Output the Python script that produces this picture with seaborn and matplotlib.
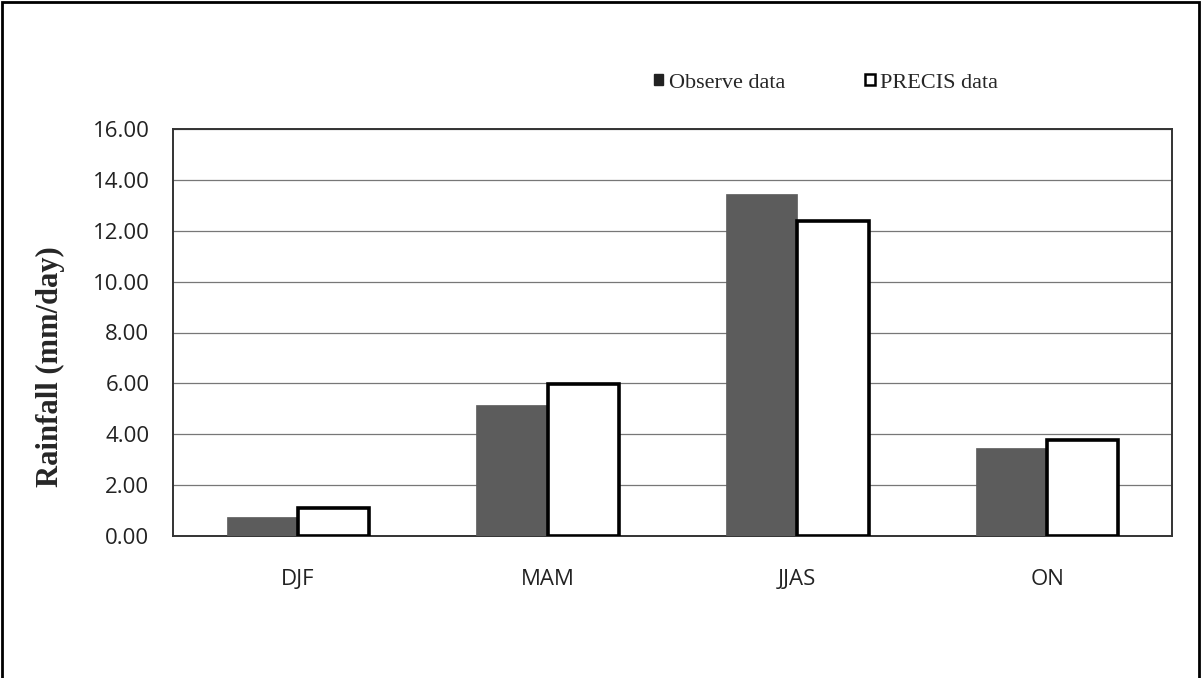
import matplotlib
matplotlib.use("Agg")
import matplotlib.pyplot as plt
import seaborn as sns
import pandas as pd
from matplotlib.patches import Rectangle, Patch

seasons = ["DJF", "MAM", "JJAS", "ON"]
observed = [0.76, 5.15, 13.43, 3.45]
precis = [1.11, 5.97, 12.39, 3.77]
series_names = ["Observe data", "PRECIS data"]
y_ticks = [0, 2, 4, 6, 8, 10, 12, 14, 16]

df = pd.DataFrame({
    "season": seasons * 2,
    "rainfall": observed + precis,
    "series": [series_names[0]] * 4 + [series_names[1]] * 4,
})

sns.set_theme(style="white")
fig = plt.figure(figsize=(12.01, 6.78), dpi=100)
ax = fig.add_axes([173 / 1201, 1 - 536 / 678, 999 / 1201, 407 / 678])

sns.barplot(data=df, x="season", y="rainfall", hue="series",
            palette=["#5c5c5c", "white"], width=0.57, gap=0,
            saturation=1, legend=False, ax=ax)

# outline style for each series
for i, bar in enumerate(ax.patches[:8]):
    if i < 4:
        bar.set_edgecolor("#5c5c5c")
        bar.set_linewidth(0.5)
    else:
        bar.set_edgecolor("black")
        bar.set_linewidth(2.6)
    bar.set_zorder(3)

ax.set_ylim(0, 16)
ax.set_xlim(-0.5, 3.5)
ax.set_yticks(y_ticks)
ax.set_yticklabels([f"{v:.2f}" for v in y_ticks], fontsize=16,
                   family="Open Sans", color="#222222")
ax.set_xticklabels(seasons, fontsize=16, family="Open Sans", color="#222222")
ax.tick_params(axis="y", length=0, pad=17)
ax.tick_params(axis="x", length=0, pad=24)
ax.yaxis.grid(True, color="#777777", linewidth=0.9, zorder=0)
ax.set_axisbelow(True)
for s in ax.spines.values():
    s.set_visible(True)
    s.set_color("#333333")
    s.set_linewidth(1.4)

ax.set_xlabel("")
ax.set_ylabel("")
fig.text(50 / 1201, 1 - 367 / 678, "Rainfall (mm/day)", rotation=90,
         ha="center", va="center", fontsize=22, fontweight="bold",
         family="Liberation Serif")

# series key above the plot
handles = [Patch(facecolor="#222222", edgecolor="#222222", linewidth=1),
           Patch(facecolor="white", edgecolor="black", linewidth=1.8)]
fig.legend(handles, series_names, loc="center", bbox_to_anchor=(826 / 1201, 1 - 83 / 678),
           ncol=2, frameon=False, handlelength=0.42, handleheight=0.42,
           handletextpad=0.25, columnspacing=3.6,
           prop={"family": "Liberation Serif", "size": 16})

# outer frame
fig.patches.append(Rectangle((2 / 1201, -0.05), 1197 / 1201, 1.05 - 2 / 678,
                             transform=fig.transFigure, fill=False,
                             edgecolor="black", linewidth=2))

fig.savefig("out.png", dpi=100)
